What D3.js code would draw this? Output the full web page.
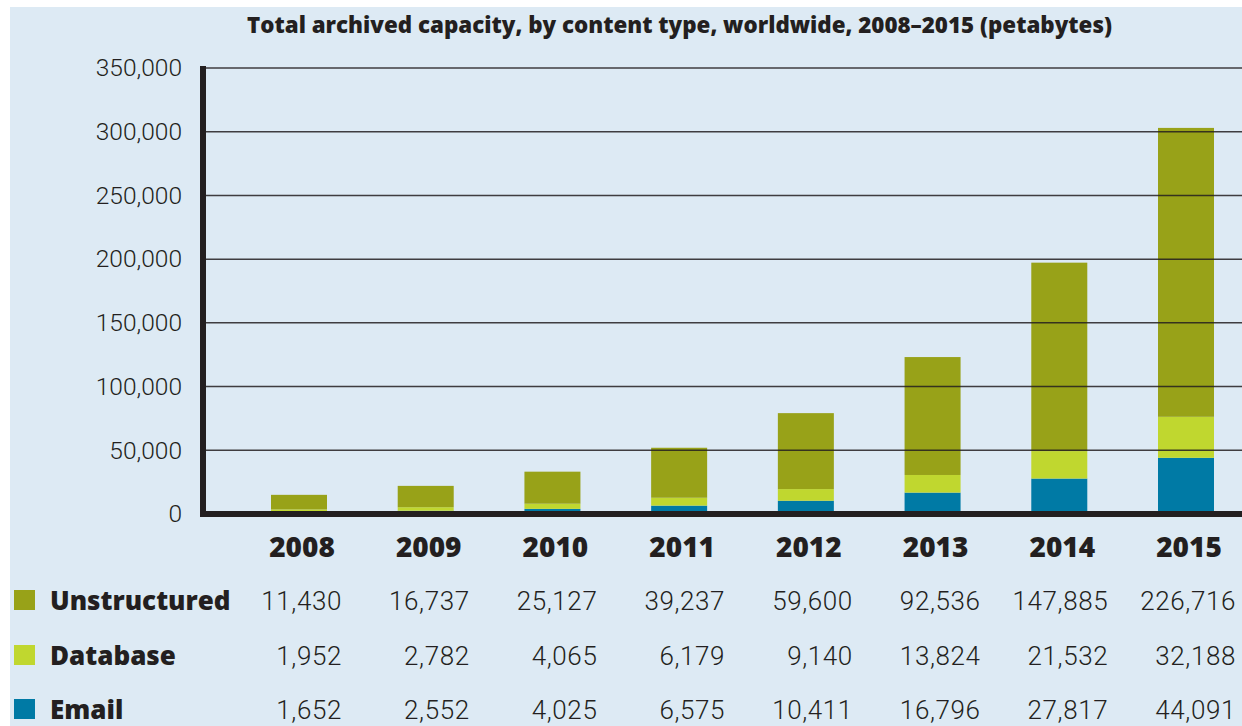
<!DOCTYPE html>
<html>
<head>
<meta charset="utf-8">
<script src="https://d3js.org/d3.v7.min.js"></script>
<style>
  body { margin: 0; background: #fff; }
  text { fill: #231f20; }
</style>
</head>
<body>
<script>
  var years = ['2008', '2009', '2010', '2011', '2012', '2013', '2014', '2015'];
  var seriesNames = ['Unstructured', 'Database', 'Email'];
  var unstructured = [11430, 16737, 25127, 39237, 59600, 92536, 147885, 226716];
  var database = [1952, 2782, 4065, 6179, 9140, 13824, 21532, 32188];
  var email = [1652, 2552, 4025, 6575, 10411, 16796, 27817, 44091];
  var yTicks = [0, 50000, 100000, 150000, 200000, 250000, 300000, 350000];

  var colors = { Unstructured: '#98a218', Database: '#c0d72f', Email: '#007aa5' };
  var values = { Unstructured: unstructured, Database: database, Email: email };

  var W = 1242, H = 726;
  var svg = d3.select('body').append('svg').attr('width', W).attr('height', H)
    .style('font-family', 'Roboto, sans-serif');

  svg.append('rect').attr('x', 10).attr('y', 7).attr('width', W - 10).attr('height', H - 7)
    .attr('fill', '#ddeaf4');

  svg.append('text').attr('x', 247).attr('y', 33)
    .attr('font-family', '"Open Sans", sans-serif')
    .attr('font-size', 22).attr('font-weight', 800)
    .attr('textLength', 865).attr('lengthAdjust', 'spacingAndGlyphs')
    .text('Total archived capacity, by content type, worldwide, 2008\u20132015 (petabytes)');

  var x = d3.scalePoint().domain(years).range([299, 1186]);   // bar centres
  var xt = d3.scalePoint().domain(years).range([342, 1236]);  // table column right edges
  var y = d3.scaleLinear().domain([0, 350000]).range([514, 68]);
  var barW = 56;

  // stack: Email bottom, Database, Unstructured top
  var rows = years.map((yr, i) => ({ year: yr, Email: email[i], Database: database[i], Unstructured: unstructured[i] }));
  var stacked = d3.stack().keys(['Email', 'Database', 'Unstructured'])(rows);

  svg.append('g').selectAll('g').data(stacked).join('g')
    .attr('fill', d => colors[d.key])
    .selectAll('rect').data(d => d).join('rect')
      .attr('x', d => x(d.data.year) - barW / 2)
      .attr('width', barW)
      .attr('y', d => y(d[1]))
      .attr('height', d => y(d[0]) - y(d[1]));

  // gridlines drawn over the bars
  svg.append('g').selectAll('line').data(yTicks.filter(t => t > 0)).join('line')
    .attr('x1', 203).attr('x2', W)
    .attr('y1', d => y(d)).attr('y2', d => y(d))
    .attr('stroke', '#231f20').attr('stroke-opacity', 0.85).attr('stroke-width', 1.5);

  var yAxis = svg.append('g').attr('transform', 'translate(182,0)')
    .call(d3.axisLeft(y).tickValues(yTicks).tickSize(0).tickPadding(0).tickFormat(d3.format(',')));
  yAxis.select('.domain').remove();
  yAxis.selectAll('text').attr('font-size', 24.5).attr('font-weight', 300)
    .attr('font-family', 'Roboto, sans-serif').attr('fill', '#231f20');

  // thick axis lines
  svg.append('line').attr('x1', 203).attr('x2', 203).attr('y1', 66).attr('y2', 517)
    .attr('stroke', '#231f20').attr('stroke-width', 6);
  svg.append('line').attr('x1', 200).attr('x2', W).attr('y1', 514).attr('y2', 514)
    .attr('stroke', '#231f20').attr('stroke-width', 6);

  // year labels
  svg.append('g').selectAll('text').data(years).join('text')
    .attr('x', d => x(d) + 3).attr('y', 557).attr('text-anchor', 'middle')
    .attr('font-family', '"Open Sans", sans-serif')
    .attr('font-size', 28).attr('font-weight', 800).text(d => d);

  // data table
  var rowY = { Unstructured: 610, Database: 665, Email: 719 };
  var table = svg.append('g').selectAll('g').data(seriesNames).join('g');
  table.append('rect').attr('x', 14).attr('y', d => rowY[d] - 20).attr('width', 21).attr('height', 20)
    .attr('fill', d => colors[d]);
  table.append('text').attr('x', 50).attr('y', d => rowY[d])
    .attr('font-family', '"Open Sans", sans-serif')
    .attr('font-size', 26).attr('font-weight', 800).text(d => d);
  table.selectAll('text.v').data(d => values[d].map((v, i) => ({ v: v, yr: years[i], s: d }))).join('text')
    .attr('class', 'v')
    .attr('x', d => xt(d.yr)).attr('y', d => rowY[d.s]).attr('text-anchor', 'end')
    .attr('font-size', 26).attr('font-weight', 300).attr('letter-spacing', 0.6)
    .text(d => d3.format(',')(d.v));
</script>
</body>
</html>
